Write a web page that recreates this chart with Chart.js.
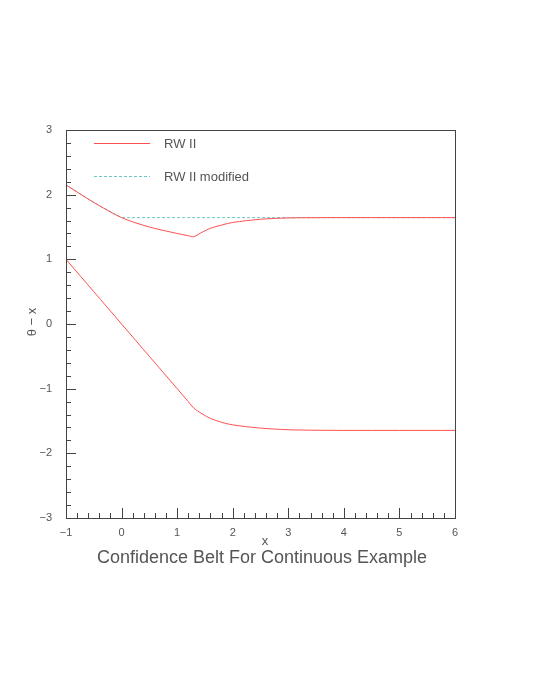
<!DOCTYPE html>
<html>
<head>
<meta charset="utf-8">
<script src="https://cdn.jsdelivr.net/npm/chart.js@4"></script>
<style>
  html, body { margin: 0; padding: 0; background: #fff; }
  #wrap { width: 535px; height: 692px; }
</style>
</head>
<body>
<div id="wrap"><canvas id="c"></canvas></div>
<script>
// values
const xs       = [-1, -0.5, 0, 0.5, 1, 1.2, 1.3, 1.45, 1.6, 1.8, 2, 2.5, 3, 3.5, 4, 5, 6];
const upperRW  = [2.15, 1.88, 1.645, 1.5, 1.4, 1.365, 1.35, 1.42, 1.48, 1.53, 1.57, 1.62, 1.64, 1.644, 1.645, 1.645, 1.645];
const lowerRW  = [1.0, 0.5, 0.0, -0.5, -1.0, -1.2, -1.3, -1.39, -1.46, -1.52, -1.56, -1.61, -1.635, -1.643, -1.645, -1.645, -1.645];
const modified = [2.15, 1.88, 1.645, 1.645, 1.645, 1.645, 1.645, 1.645, 1.645, 1.645, 1.645, 1.645, 1.645, 1.645, 1.645, 1.645, 1.645];

const RED = '#ff5050';
const CYAN = '#6cc6c6';
const GREY = '#555';

function pts(ys) {
    return xs.map((x, i) => ({ x: x, y: ys[i] }));
}

const minus = v => v < 0 ? '\u2212' + Math.abs(v) : String(v);

const decor = {
    id: 'decor',
    afterDraw(chart) {
        const ctx = chart.ctx;
        const a = chart.chartArea;
        const sx = chart.scales.x, sy = chart.scales.y;
        ctx.save();
        ctx.strokeStyle = '#444';
        ctx.lineWidth = 1;
        ctx.strokeRect(a.left + 0.5, a.top + 0.5, a.right - a.left, a.bottom - a.top);
        // ticks inside the frame
        ctx.beginPath();
        for (let v = -1; v <= 6.001; v += 0.2) {
            const px = Math.round(sx.getPixelForValue(v)) + 0.5;
            const major = Math.abs(v - Math.round(v)) < 0.01;
            ctx.moveTo(px, a.bottom);
            ctx.lineTo(px, a.bottom - (major ? 10 : 5));
        }
        for (let v = -3; v <= 3.001; v += 0.2) {
            const py = Math.round(sy.getPixelForValue(v)) + 0.5;
            const major = Math.abs(v - Math.round(v)) < 0.01;
            ctx.moveTo(a.left, py);
            ctx.lineTo(a.left + (major ? 10 : 5), py);
        }
        ctx.stroke();
        // legend
        ctx.strokeStyle = RED;
        ctx.beginPath(); ctx.moveTo(94, 143.5); ctx.lineTo(150, 143.5); ctx.stroke();
        ctx.strokeStyle = CYAN;
        ctx.setLineDash([3, 2]);
        ctx.beginPath(); ctx.moveTo(94, 176.5); ctx.lineTo(150, 176.5); ctx.stroke();
        ctx.setLineDash([]);
        ctx.fillStyle = GREY;
        ctx.font = '13px "Liberation Sans"';
        ctx.textBaseline = 'middle';
        ctx.fillText('RW II', 164, 144);
        ctx.fillText('RW II modified', 164, 177);
        // axis titles and caption
        ctx.textAlign = 'center';
        ctx.fillText('x', 265, 541);
        ctx.font = '18px "Liberation Sans"';
        ctx.fillText('Confidence Belt For Continuous Example', 262, 558);
        ctx.translate(32, 322);
        ctx.rotate(-Math.PI / 2);
        ctx.font = '13px "Liberation Sans"';
        ctx.fillText('\u03b8 \u2212 x', 0, 0);
        ctx.restore();
    }
};

new Chart(document.getElementById('c'), {
    type: 'line',
    data: {
        datasets: [
            { label: 'RW II', data: pts(upperRW), borderColor: RED, borderWidth: 1, pointRadius: 0, tension: 0.3 },
            { label: 'RW II lower', data: pts(lowerRW), borderColor: RED, borderWidth: 1, pointRadius: 0, tension: 0.3 },
            { label: 'RW II modified', data: pts(modified), borderColor: CYAN, borderWidth: 1, borderDash: [3, 2], pointRadius: 0, tension: 0 }
        ]
    },
    options: {
        responsive: true,
        maintainAspectRatio: false,
        animation: false,
        layout: { padding: { left: 0, right: 80, top: 130, bottom: 0 } },
        plugins: { legend: { display: false }, tooltip: { enabled: false } },
        scales: {
            x: {
                type: 'linear', min: -1, max: 6,
                grid: { display: false },
                border: { display: false },
                ticks: { stepSize: 1, color: GREY, padding: 0, font: { size: 11, family: 'Liberation Sans' }, callback: minus },
                afterFit(s) { s.height = 174; }
            },
            y: {
                type: 'linear', min: -3, max: 3,
                grid: { display: false },
                border: { display: false },
                ticks: { stepSize: 1, color: GREY, padding: 6, font: { size: 11, family: 'Liberation Sans' }, callback: minus },
                afterFit(s) { s.width = 66; }
            }
        }
    },
    plugins: [decor]
});
</script>
</body>
</html>
